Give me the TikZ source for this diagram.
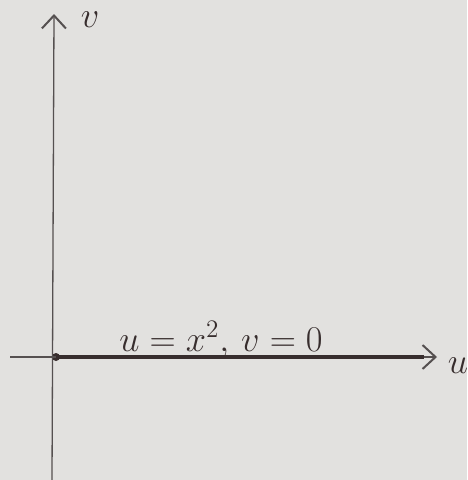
\documentclass[tikz,border=0pt]{standalone}
\usetikzlibrary{arrows.meta}
\definecolor{paper}{RGB}{226,225,223}
\definecolor{pen}{RGB}{85,80,80}
\definecolor{ink}{RGB}{55,45,45}
\tikzset{
  axis/.style={draw=pen, line width=1.3pt, -{Straight Barb[length=13pt,width=24pt,line width=2pt]}},
  seg/.style={draw=ink, line width=3.6pt},
  lbl/.style={text=ink, font=\huge, scale=1.75, inner sep=0pt},
  dotstyle/.style={circle, fill=ink, inner sep=0pt, minimum size=8pt}
}
\begin{document}
\begin{tikzpicture}[x=1pt,y=-1pt]
\fill[paper] (0,0) rectangle (467,480);
\useasboundingbox (0,0) rectangle (467,480);
\coordinate (vbot) at (52,480);
\coordinate (vtop) at (54,14);
\coordinate (uleft) at (10,357);
\coordinate (uright) at (437,357);
\coordinate (send) at (424,357);
\node[dotstyle] (o) at (56,357) {};
\draw[axis] (vbot) -- (vtop);
\draw[axis] (uleft) -- (uright);
\draw[seg] (o.center) -- (send);
\node[lbl] (vl) at (90,20) {$v$};
\node[lbl] (ul) at (458,366) {$u$};
\node[lbl, anchor=base] (eq) at (221,351) {$u=x^{2},\,v=0$};
\end{tikzpicture}
\end{document}
